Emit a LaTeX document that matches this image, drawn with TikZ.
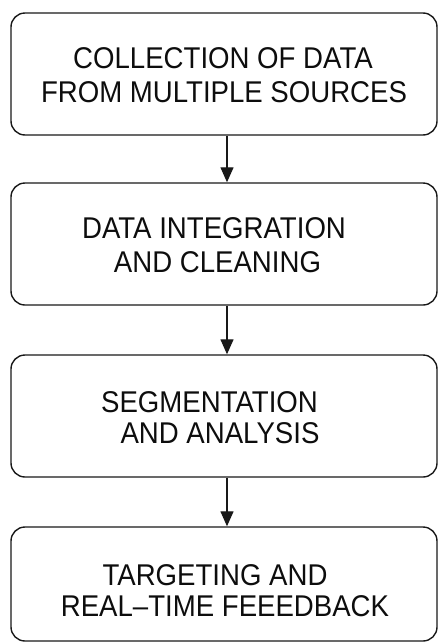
\documentclass[tikz,border=0pt]{standalone}
\usepackage{fontspec}
\setmainfont{Liberation Sans}[FakeStretch=0.92]
\usetikzlibrary{arrows.meta}
\begin{document}
\begin{tikzpicture}[x=1pt,y=-1pt,
  stagebox/.style={draw=black!90,line width=1.4pt,rounded corners=14pt,minimum width=426pt,minimum height=122pt,inner sep=0pt},
  txt/.style={anchor=base,inner sep=0pt,font=\fontsize{30}{30}\selectfont,text=black!95},
  arr/.style={draw=black!90,line width=1.3pt,-{Triangle[length=15pt,width=13pt]}}]
\useasboundingbox (0,0) rectangle (439,643);
\node[stagebox] (b1) at (224,74) {};
\node[stagebox] (b2) at (224,244) {};
\node[stagebox] (b3) at (224,416) {};
\node[stagebox,minimum height=114pt] (b4) at (224,584) {};
\node[txt] (t1a) at (223,68.5) {COLLECTION OF DATA};
\node[txt] (t1b) at (224,102) {FROM MULTIPLE SOURCES};
\node[txt] (t2a) at (214,238.5) {DATA INTEGRATION};
\node[txt] (t2b) at (217.5,272) {AND CLEANING};
\node[txt] (t3a) at (209.5,412) {SEGMENTATION};
\node[txt] (t3b) at (220,443) {AND ANALYSIS};
\node[txt] (t4a) at (215,585) {TARGETING AND};
\node[txt] (t4b) at (225,616) {REAL–TIME FEEEDBACK};
\coordinate (ax) at (227,0);
\draw[arr] (b1.south -| ax) -- (b2.north -| ax);
\draw[arr] (b2.south -| ax) -- (b3.north -| ax);
\draw[arr] (b3.south -| ax) -- (b4.north -| ax);
\end{tikzpicture}
\end{document}
